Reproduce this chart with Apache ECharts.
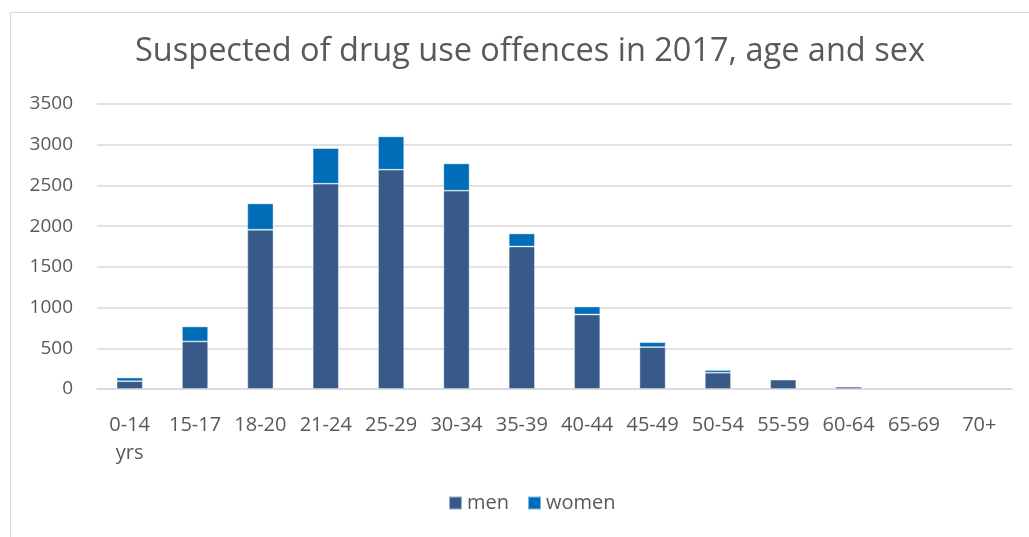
<!DOCTYPE html>
<html><head><meta charset="utf-8">
<script src="https://cdn.jsdelivr.net/npm/echarts@6/dist/echarts.min.js"></script>
<style>html,body{margin:0;padding:0;background:#fff}#c{width:1029px;height:537px}</style>
</head><body><div id="c"></div>
<script>
const categories = ['0-14\nyrs','15-17','18-20','21-24','25-29','30-34','35-39','40-44','45-49','50-54','55-59','60-64','65-69','70+'];
const men =   [96, 584, 1956, 2521, 2693, 2435, 1750, 915, 514, 200, 115, 28, 0, 0];
const women = [45, 184, 323, 437, 409, 335, 160, 98, 61, 33, 4, 5, 0, 0];
const yTicks = [0, 500, 1000, 1500, 2000, 2500, 3000, 3500];

const font = '"Open Sans", Lato, sans-serif';
const chart = echarts.init(document.getElementById('c'));
const toData = arr => arr.map(v => v === 0 ? '-' : v);
chart.setOption({
  animation: false,
  graphic: [{type:'rect', shape:{x:10.5,y:12.5,width:1030,height:540}, style:{fill:'none', stroke:'#d9d9d9', lineWidth:1}}],
  title: {text:'Suspected of drug use offences in 2017, age and sex', left:130, top:30,
    textStyle:{fontFamily:font, fontSize:32.5, fontWeight:'normal', color:'#595959'}},
  legend: {bottom:19, left:443, itemWidth:13, itemHeight:13, itemGap:18, icon:'rect',
    textStyle:{fontFamily:font, fontSize:20, color:'#595959'}, data:['men','women']},
  grid: {left:97, right:17, top:104, bottom:148, containLabel:false},
  xAxis: {type:'category', data:categories,
    axisLine:{lineStyle:{color:'#d9d9d9', width:1.5}}, axisTick:{show:false},
    axisLabel:{fontFamily:font, fontSize:20, color:'#595959', margin:22, lineHeight:28, interval:0}},
  yAxis: {type:'value', min:0, max:3500, interval:500,
    axisLine:{show:false}, axisTick:{show:false},
    splitLine:{lineStyle:{color:'#d9d9d9', width:1.5}},
    axisLabel:{fontFamily:font, fontSize:19, color:'#595959', margin:24,
      formatter:v=> yTicks.includes(v)? String(v) : ''}},
  series: [
    {name:'men', type:'bar', stack:'a', data:toData(men), barWidth:'40%',
      itemStyle:{color:'#385a89', borderColor:'rgba(255,255,255,0.5)', borderWidth:0.8}},
    {name:'women', type:'bar', stack:'a', data:toData(women), barWidth:'40%',
      itemStyle:{color:'#006db8', borderColor:'rgba(255,255,255,0.5)', borderWidth:0.8}}
  ]
});
</script></body></html>
